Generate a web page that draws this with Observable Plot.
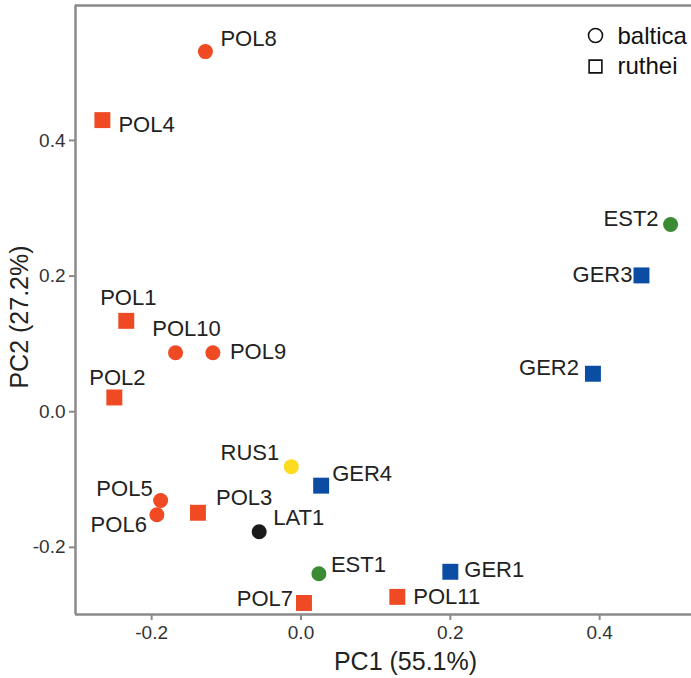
<!DOCTYPE html>
<html>
<head>
<meta charset="utf-8">
<script src="https://cdn.jsdelivr.net/npm/d3@7"></script>
<script src="https://cdn.jsdelivr.net/npm/@observablehq/plot@0.6"></script>
<style>
  html, body { margin: 0; padding: 0; background: #fff; }
  #chart svg { display: block; }
</style>
</head>
<body>
<div id="chart"></div>
<script>
// ---- data ----
const names   = ["POL8","POL4","POL1","POL10","POL9","POL2","RUS1","GER4","POL5","POL6","POL3","LAT1","EST1","POL7","POL11","GER1","GER2","GER3","EST2"];
const pc1     = [-0.128,-0.266,-0.234,-0.168,-0.118,-0.250,-0.013, 0.027,-0.188,-0.193,-0.138,-0.056, 0.024, 0.004, 0.129, 0.200, 0.391, 0.456, 0.495];
const pc2     = [ 0.531, 0.430, 0.134, 0.087, 0.087, 0.021,-0.081,-0.109,-0.131,-0.152,-0.149,-0.177,-0.239,-0.282,-0.273,-0.236, 0.056, 0.201, 0.276];
const species = ["baltica","ruthei","ruthei","baltica","baltica","ruthei","baltica","ruthei","baltica","baltica","ruthei","baltica","baltica","ruthei","ruthei","ruthei","ruthei","ruthei","baltica"];
const country = ["POL","POL","POL","POL","POL","POL","RUS","GER","POL","POL","POL","LAT","EST","POL","POL","GER","GER","GER","EST"];
const countries = ["POL","GER","EST","RUS","LAT"];
const legendLabels = ["baltica","ruthei"];
const xTicks = [-0.2, 0.0, 0.2, 0.4];
const yTicks = [-0.2, 0.0, 0.2, 0.4];
const xTitle = "PC1 (55.1%)";
const yTitle = "PC2 (27.2%)";

// ---- styling / layout ----
const countryColors = ["#EF4A24","#0B4DA2","#3B8B35","#FCDB22","#1b1b1b"];
const labelPlacement = {
  POL8:  {dx: 15, dy: -13, a: "start"},
  POL4:  {dx: 16, dy: 5,   a: "start"},
  POL1:  {dx: 2,  dy: -23, a: "middle"},
  POL10: {dx: 11, dy: -24, a: "middle"},
  POL9:  {dx: 17, dy: -1,  a: "start"},
  POL2:  {dx: 3,  dy: -20, a: "middle"},
  RUS1:  {dx: -12,dy: -14, a: "end"},
  GER4:  {dx: 11, dy: -12, a: "start"},
  POL5:  {dx: -8, dy: -12, a: "end"},
  POL6:  {dx: -10,dy: 10,  a: "end"},
  POL3:  {dx: 18, dy: -15, a: "start"},
  LAT1:  {dx: 14, dy: -14, a: "start"},
  EST1:  {dx: 12, dy: -9,  a: "start"},
  POL7:  {dx: -11,dy: -4,  a: "end"},
  POL11: {dx: 16, dy: 0,   a: "start"},
  GER1:  {dx: 14, dy: -2,  a: "start"},
  GER2:  {dx: -14,dy: -6,  a: "end"},
  GER3:  {dx: -9, dy: 0,   a: "end"},
  EST2:  {dx: -12,dy: -6,  a: "end"}
};

const data = names.map((n, i) => ({name: n, pc1: pc1[i], pc2: pc2[i], species: species[i], country: country[i]}));
const xDomain = [-0.302, 0.523];
const yDomain = [-0.299, 0.599];
const frameColor = "#8a8a8a";
const font = "Liberation Sans, Arial, Helvetica, sans-serif";

const labelMarks = data.map(d => {
  const p = labelPlacement[d.name];
  return Plot.text([d], {x: "pc1", y: "pc2", text: "name", dx: p.dx, dy: p.dy, textAnchor: p.a,
    fontSize: 22, fill: "#222", lineAnchor: "middle"});
});

const chart = Plot.plot({
  width: 691,
  height: 678,
  marginTop: 5,
  marginLeft: 75,
  marginRight: 0,
  marginBottom: 64,
  style: {fontFamily: font, background: "#fff"},
  x: {domain: xDomain, ticks: xTicks, tickFormat: d => d.toFixed(1), label: null},
  y: {domain: yDomain, ticks: yTicks, tickFormat: d => d.toFixed(1), label: null},
  color: {type: "ordinal", domain: countries, range: countryColors},
  marks: [
    Plot.axisX({ticks: xTicks, tickFormat: d => d.toFixed(1), tickSize: 6, tickPadding: 5, fontSize: 19, stroke: frameColor, strokeWidth: 2, fill: "#333", label: null}),
    Plot.axisY({ticks: yTicks, tickFormat: d => d.toFixed(1), tickSize: 6, tickPadding: 4, fontSize: 19, stroke: frameColor, strokeWidth: 2, fill: "#333", label: null}),
    Plot.ruleX([xDomain[0]], {stroke: frameColor, strokeWidth: 2.5}),
    Plot.ruleY([yDomain[0], yDomain[1]], {stroke: frameColor, strokeWidth: 2.5}),
    Plot.dot(data.filter(d => d.species === "baltica"), {x: "pc1", y: "pc2", fill: "country", symbol: "circle", r: 7.5}),
    Plot.dot(data.filter(d => d.species === "ruthei"), {x: "pc1", y: "pc2", fill: "country", symbol: "square", r: 9}),
    ...labelMarks,
    // legend
    Plot.dot([legendLabels[0]], {frameAnchor: "top-right", dx: -96, dy: 30, symbol: "circle", r: 7, stroke: "#111", strokeWidth: 1.6, fill: "none"}),
    Plot.dot([legendLabels[1]], {frameAnchor: "top-right", dx: -96, dy: 61, symbol: "square", r: 7.2, stroke: "#111", strokeWidth: 1.6, fill: "none"}),
    Plot.text([legendLabels[0]], {frameAnchor: "top-right", dx: -74, dy: 31, text: d => d, textAnchor: "start", fontSize: 24, fill: "#111", lineAnchor: "middle"}),
    Plot.text([legendLabels[1]], {frameAnchor: "top-right", dx: -74, dy: 61, text: d => d, textAnchor: "start", fontSize: 24, fill: "#111", lineAnchor: "middle"}),
    // axis titles
    Plot.text([xTitle], {frameAnchor: "bottom", dx: 22, dy: 47, text: d => d, fontSize: 25, fill: "#222", textAnchor: "middle", lineAnchor: "middle"}),
    Plot.text([yTitle], {frameAnchor: "left", dx: -56, dy: 7, rotate: -90, text: d => d, fontSize: 25, fill: "#222", textAnchor: "middle", lineAnchor: "middle"})
  ]
});
document.getElementById("chart").appendChild(chart);
</script>
</body>
</html>
